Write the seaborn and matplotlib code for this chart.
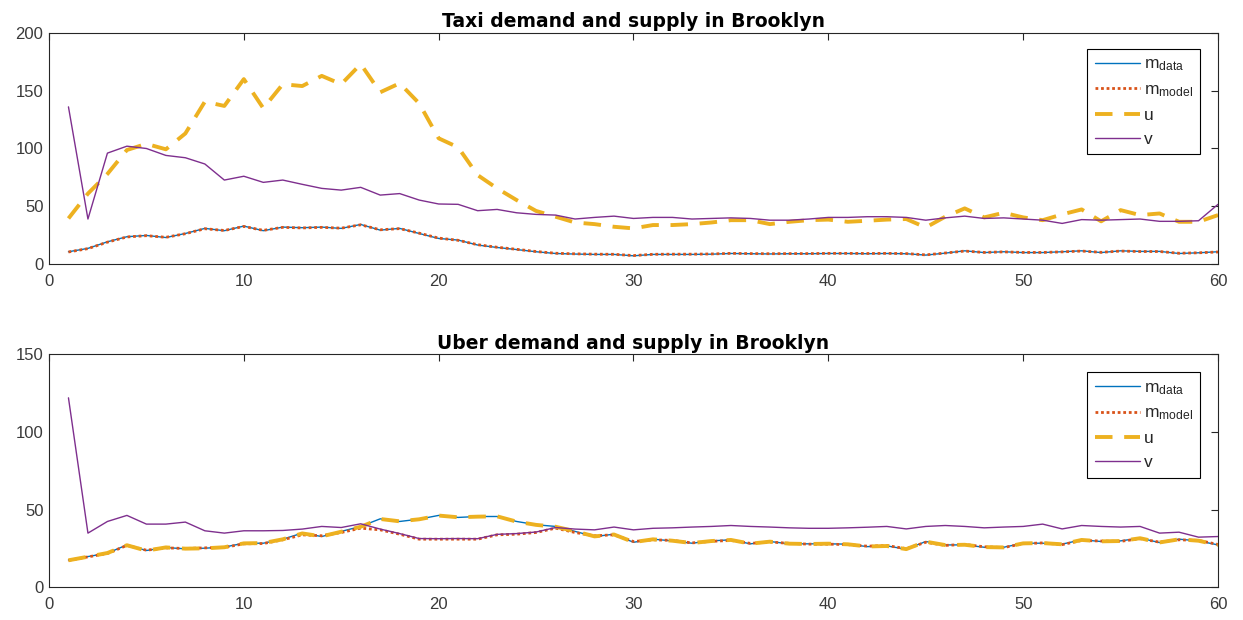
import numpy as np
import pandas as pd
import matplotlib
matplotlib.use("Agg")
import matplotlib.pyplot as plt
import seaborn as sns

# ---------------- data ----------------
t = list(range(1, 61))

taxi_m_data = [10.7, 13.6, 19.3, 23.7, 24.8, 23.0, 26.5, 30.9, 28.9, 32.9,
               28.9, 32.0, 31.5, 32.0, 30.9, 34.3, 29.4, 30.9, 26.5, 22.2,
               20.8, 16.5, 14.4, 12.6, 10.7, 9.2, 8.7, 8.4, 8.4, 7.2,
               8.4, 8.4, 8.4, 8.6, 9.2, 9.0, 8.8, 9.0, 9.0, 9.2,
               9.2, 9.0, 9.2, 9.0, 7.8, 9.5, 11.5, 10.0, 10.7, 10.0,
               10.0, 10.7, 11.5, 10.0, 11.5, 11.0, 11.0, 9.2, 9.8, 10.7]
taxi_m_model = [10.5, 13.4, 19.0, 23.5, 24.6, 23.2, 26.3, 30.6, 29.1, 32.6,
                29.2, 31.8, 31.3, 31.8, 31.1, 34.0, 29.7, 30.7, 26.8, 22.5,
                20.6, 16.8, 14.6, 12.8, 10.9, 9.4, 8.9, 8.6, 8.5, 7.4,
                8.5, 8.6, 8.6, 8.8, 9.3, 9.1, 9.0, 9.1, 9.1, 9.3,
                9.3, 9.2, 9.3, 9.1, 8.0, 9.6, 11.3, 10.1, 10.6, 10.1,
                10.1, 10.6, 11.3, 10.2, 11.3, 10.9, 10.9, 9.4, 9.8, 10.5]
taxi_u = [39.5, 61.0, 78.0, 98.7, 104.0, 99.3, 113.0, 140.5, 136.8, 160.0,
          134.8, 155.6, 154.0, 162.8, 155.6, 173.0, 148.6, 156.4, 139.0, 108.8,
          101.0, 77.0, 65.5, 55.4, 46.0, 41.0, 36.0, 34.6, 32.3, 30.9,
          33.8, 33.8, 34.6, 36.0, 38.0, 38.0, 34.6, 36.6, 38.0, 38.5,
          36.6, 37.5, 38.5, 39.0, 31.7, 41.0, 48.2, 40.4, 44.4, 40.4,
          38.0, 43.0, 47.3, 37.0, 46.7, 42.4, 43.8, 36.6, 36.6, 42.4]
taxi_v = [136.0, 39.0, 96.0, 102.0, 100.0, 94.0, 92.0, 86.6, 72.7, 76.0,
          70.7, 72.7, 69.0, 65.5, 64.0, 66.4, 59.7, 61.0, 55.4, 52.0,
          51.7, 46.2, 47.3, 44.4, 43.0, 42.4, 39.0, 40.4, 41.5, 39.5,
          40.4, 40.4, 39.0, 39.5, 40.0, 39.5, 38.0, 38.0, 39.0, 40.4,
          40.4, 41.0, 41.0, 40.4, 38.0, 40.0, 41.5, 39.5, 40.0, 39.0,
          38.0, 35.2, 38.5, 38.0, 38.5, 39.0, 37.0, 37.0, 37.5, 51.7]

uber_m_data = [17.6, 19.8, 22.0, 27.3, 23.7, 25.6, 24.8, 25.2, 25.9, 28.4,
               28.4, 31.0, 34.9, 32.7, 36.0, 39.2, 44.1, 42.4, 43.9, 46.3,
               45.0, 45.6, 45.6, 42.4, 40.3, 39.2, 36.0, 32.7, 34.2, 29.0,
               31.0, 29.9, 28.4, 29.9, 30.6, 28.0, 29.5, 28.0, 28.0, 28.0,
               27.8, 26.2, 26.7, 24.5, 29.5, 27.3, 27.3, 25.8, 25.8, 28.4,
               28.4, 27.8, 30.6, 29.5, 29.9, 31.7, 28.8, 31.0, 29.9, 27.3]
uber_m_model = [17.3, 19.6, 21.8, 27.0, 23.9, 25.4, 25.0, 25.4, 25.7, 28.0,
                28.2, 30.6, 33.8, 33.2, 35.3, 38.1, 37.0, 34.2, 31.0, 31.0,
                31.0, 31.0, 33.8, 34.2, 35.3, 38.1, 35.3, 33.2, 33.8, 29.5,
                30.6, 30.2, 28.6, 29.6, 30.2, 28.3, 29.2, 28.3, 27.8, 27.8,
                27.5, 26.5, 26.9, 24.9, 29.0, 27.0, 27.6, 26.1, 25.6, 28.1,
                28.6, 27.5, 30.2, 29.8, 29.6, 31.3, 29.1, 30.6, 30.2, 27.6]
uber_u = [17.4, 19.7, 22.1, 27.1, 23.6, 25.7, 24.9, 25.1, 25.8, 28.3,
          28.5, 30.9, 34.7, 32.8, 35.8, 39.0, 44.0, 42.5, 43.8, 46.2,
          45.1, 45.5, 45.7, 42.3, 40.2, 39.0, 36.1, 32.8, 34.0, 29.1,
          30.9, 30.0, 28.5, 29.8, 30.5, 28.1, 29.4, 28.1, 27.9, 28.1,
          27.7, 26.3, 26.6, 24.6, 29.4, 27.2, 27.4, 25.9, 25.7, 28.3,
          28.5, 27.7, 30.5, 29.6, 29.8, 31.6, 28.9, 30.9, 30.0, 27.2]
uber_v = [122.0, 34.9, 42.4, 46.3, 40.7, 40.7, 42.0, 36.4, 34.9, 36.4,
          36.4, 36.6, 37.5, 39.2, 38.5, 40.9, 37.5, 34.6, 31.4, 31.3,
          31.4, 31.3, 34.1, 34.6, 35.6, 38.5, 37.5, 37.0, 38.8, 37.0,
          38.0, 38.3, 38.8, 39.2, 39.8, 39.2, 38.8, 38.3, 38.0, 38.0,
          38.3, 38.7, 39.2, 37.6, 39.2, 39.8, 39.2, 38.3, 38.8, 39.2,
          40.7, 37.6, 39.8, 39.2, 38.8, 39.2, 34.9, 35.5, 32.3, 32.7]

titles = ["Taxi demand and supply in Brooklyn", "Uber demand and supply in Brooklyn"]
labels = [r"m$_{\mathrm{data}}$", r"m$_{\mathrm{model}}$", "u", "v"]
x_ticks = [0, 10, 20, 30, 40, 50, 60]
y_ticks_top = [0, 50, 100, 150, 200]
y_ticks_bottom = [0, 50, 100, 150]

# ---------------- style ----------------
sns.set_theme(style="white")
plt.rcParams["font.family"] = ["Liberation Sans", "DejaVu Sans"]
plt.rcParams["mathtext.fontset"] = "custom"
plt.rcParams["mathtext.rm"] = "Liberation Sans"
plt.rcParams["mathtext.it"] = "Liberation Sans"

AX_COL = "#262626"
TICK_LBL = "#3a3a3a"
colors = ["#0072BD", "#D95319", "#EDB120", "#7E2F8E"]
lws = [1.0, 2.0, 2.8, 1.0]
styles = ["-", (0, (1, 1)), (0, (4.5, 3.0)), "-"]

fig = plt.figure(figsize=(12.43, 6.2), dpi=100)
ax_top = fig.add_axes([0.0394, 0.574, 0.9405, 0.373])
ax_bot = fig.add_axes([0.0394, 0.0527, 0.9405, 0.3758])

datasets = [
    (ax_top, [taxi_m_data, taxi_m_model, taxi_u, taxi_v], (0, 200), y_ticks_top, titles[0], 0.931),
    (ax_bot, [uber_m_data, uber_m_model, uber_u, uber_v], (0, 150), y_ticks_bottom, titles[1], 0.923),
]

for ax, series, ylim, yticks, title, leg_y in datasets:
    for vals, lab, c, lw, ls in zip(series, labels, colors, lws, styles):
        sns.lineplot(x=t, y=vals, ax=ax, color=c, linewidth=lw, linestyle=ls, label=lab)
    ax.set_xlim(0, 60)
    ax.set_ylim(*ylim)
    ax.set_xticks(x_ticks)
    ax.set_yticks(yticks)
    ax.set_xlabel("")
    ax.set_ylabel("")
    ax.set_title(title, fontsize=13.5, fontweight="bold", color="black", pad=4,
                 family=["DejaVu Sans"])
    ax.tick_params(direction="in", length=5, width=0.8, colors=AX_COL,
                   labelsize=12, top=True, right=True, labelcolor=TICK_LBL, pad=4)
    ax.tick_params(axis="x", pad=7)
    for sp in ax.spines.values():
        sp.set_visible(True)
        sp.set_color(AX_COL)
        sp.set_linewidth(0.8)
    leg = ax.legend(loc="upper right", bbox_to_anchor=(0.985, leg_y), borderaxespad=0,
                    fontsize=12.5, frameon=True, fancybox=False, handlelength=2.6,
                    handletextpad=0.2, labelspacing=0.5, borderpad=0.45)
    leg.get_frame().set_edgecolor("black")
    leg.get_frame().set_linewidth(0.8)
    leg.get_frame().set_alpha(1.0)

fig.savefig("out.png", dpi=100)
